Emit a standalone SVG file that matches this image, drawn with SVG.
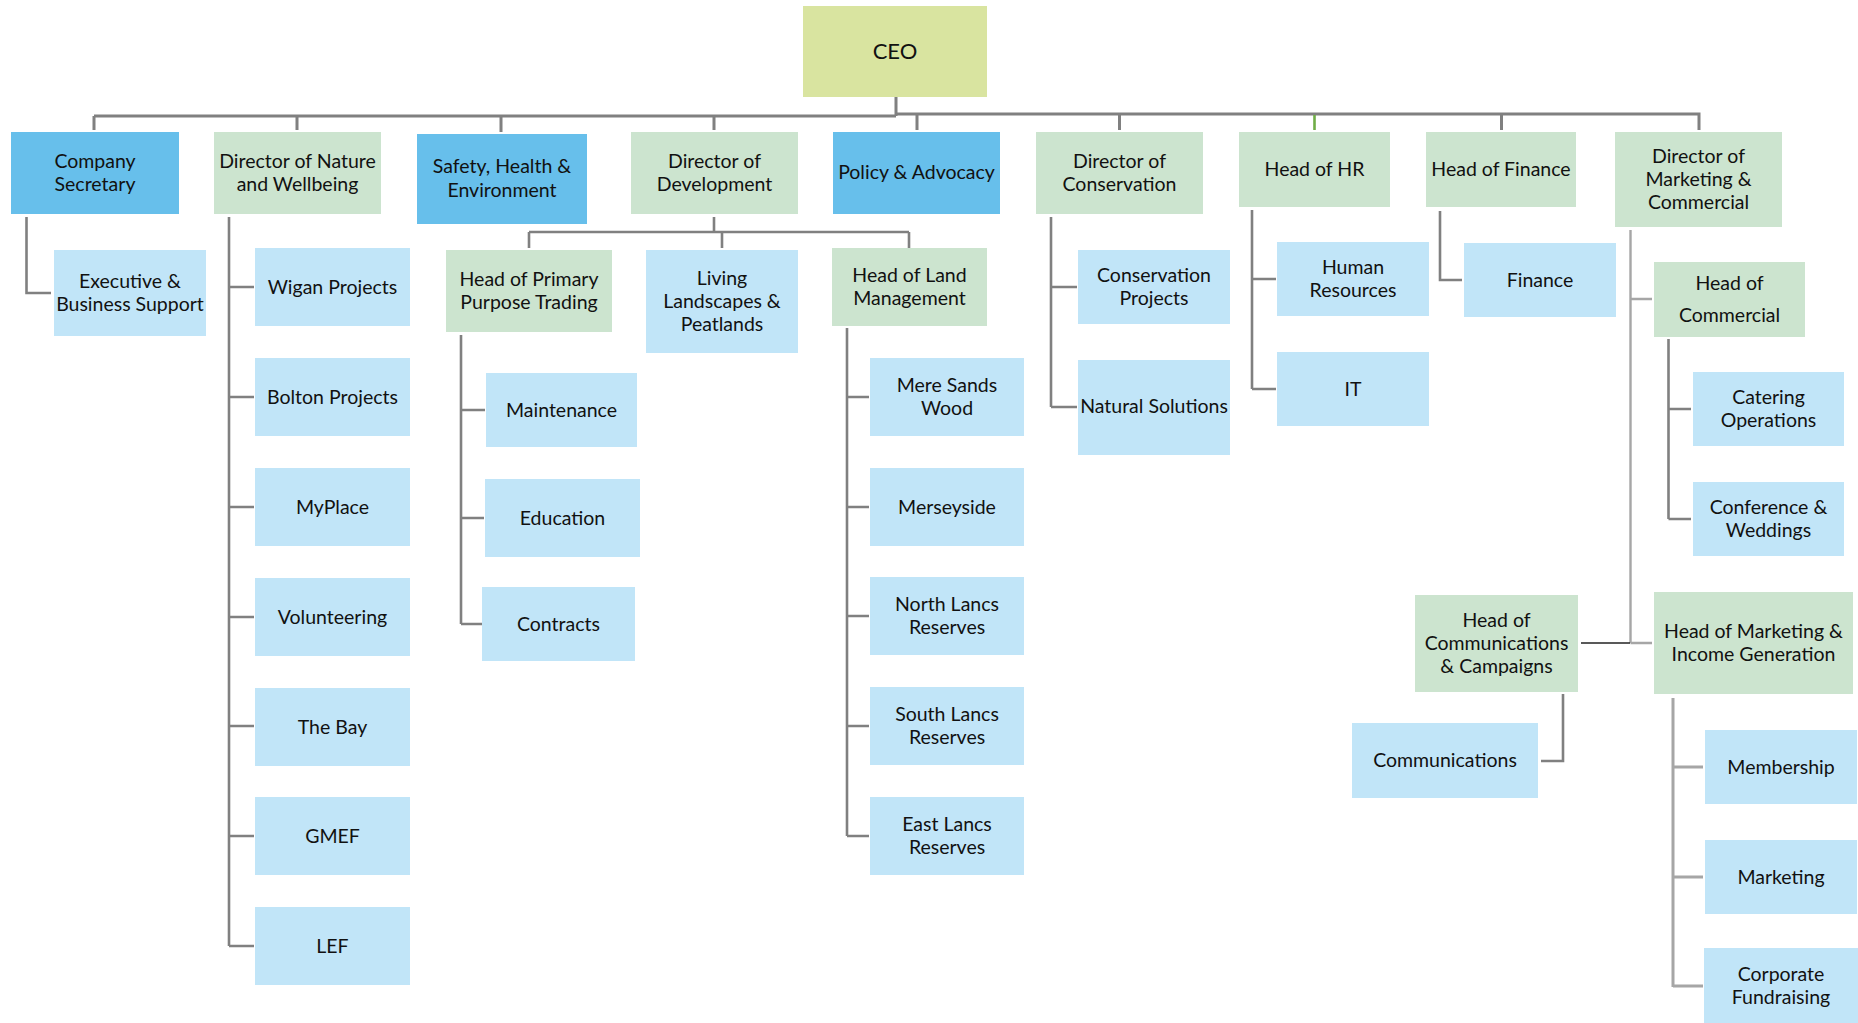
<svg xmlns="http://www.w3.org/2000/svg" width="1858" height="1023" viewBox="0 0 1858 1023">
<style>
.b{fill:#c1e5f8}
.g{fill:#cce4cf}
.d{fill:#67bfeb}
.c{fill:#d9e4a0}
text{font-family:Lato,"Liberation Sans",sans-serif;font-size:19.5px;fill:#111;text-anchor:middle}
.ln{fill:none;stroke:#808080;stroke-width:2.6}
.lt{fill:none;stroke:#a6a6a6;stroke-width:2.4}
</style>
<rect width="1858" height="1023" fill="#fff"/>
<g id="connectors">
<path class="ln" d="M896 97V116M94 116H896M94 116V130M297 116V130M501 116V132M714 116V130M895 114H1699V130M917 114V130M1119.5 114V130M1501.5 114V130" style="stroke-width:3"/>
<path d="M1314.5 115V130" fill="none" stroke="#70ad47" stroke-width="2.6"/>
<path class="ln" d="M26.5 217V293H51"/>
<path class="ln" d="M229 217V946M229 287H254M229 397H254M229 507H254M229 617H254M229 726H254M229 836H254M229 946H254"/>
<path class="ln" d="M714 217V232M529 232H909M529 232V248M722 232V248M909 232V248"/>
<path class="ln" d="M461 335V624M461 410H485M461 518H484M461 624H482"/>
<path class="ln" d="M847 328V836M847 397H869M847 507H869M847 616H869M847 726H869M847 836H869"/>
<path class="ln" d="M1051 217V407M1051 287H1077M1051 407H1077"/>
<path class="ln" d="M1252 210V389M1252 279H1276M1252 389H1276"/>
<path class="ln" d="M1440 211V280H1462"/>
<path class="lt" d="M1630.5 230V643M1630.5 299H1652M1630.5 643H1652"/>
<path d="M1581 643H1630" fill="none" stroke="#222" stroke-width="1.6"/>
<path class="ln" d="M1668.5 339V519M1668.5 409H1691M1668.5 519H1691"/>
<path class="ln" d="M1563 694V761H1541"/>
<path class="lt" d="M1673 698V987M1673 767H1703M1673 877H1703M1673 986H1703" style="stroke-width:3"/>
</g>
<g id="n-ceo"><rect class="c" x="803" y="6" width="184" height="91"/><text x="895" y="59" style="font-size:22px">CEO</text></g>
<g id="n-company-secretary"><rect class="d" x="11" y="132" width="168" height="82"/><text x="95" y="168">Company</text><text x="95" y="191">Secretary</text></g>
<g id="n-dir-nature"><rect class="g" x="214" y="132" width="167" height="82"/><text x="297.5" y="168">Director of Nature</text><text x="297.5" y="191">and Wellbeing</text></g>
<g id="n-safety"><rect class="d" x="417" y="134" width="170" height="90"/><text x="502" y="173">Safety, Health &amp;</text><text x="502" y="197">Environment</text></g>
<g id="n-dir-dev"><rect class="g" x="631" y="132" width="167" height="82"/><text x="714.5" y="168">Director of</text><text x="714.5" y="191">Development</text></g>
<g id="n-policy"><rect class="d" x="833" y="132" width="167" height="82"/><text x="916.5" y="179">Policy &amp; Advocacy</text></g>
<g id="n-dir-cons"><rect class="g" x="1036" y="132" width="167" height="82"/><text x="1119.5" y="168">Director of</text><text x="1119.5" y="191">Conservation</text></g>
<g id="n-head-hr"><rect class="g" x="1239" y="132" width="151" height="75"/><text x="1314.5" y="176">Head of HR</text></g>
<g id="n-head-fin"><rect class="g" x="1426" y="132" width="150" height="75"/><text x="1501" y="176">Head of Finance</text></g>
<g id="n-dir-mkt"><rect class="g" x="1615" y="132" width="167" height="95"/><text x="1698.5" y="163">Director of</text><text x="1698.5" y="186">Marketing &amp;</text><text x="1698.5" y="209">Commercial</text></g>
<g id="n-exec"><rect class="b" x="54" y="250" width="152" height="86"/><text x="130" y="288">Executive &amp;</text><text x="130" y="311">Business Support</text></g>
<g id="n-wigan"><rect class="b" x="255" y="248" width="155" height="78"/><text x="332.5" y="294">Wigan Projects</text></g>
<g id="n-bolton"><rect class="b" x="255" y="358" width="155" height="78"/><text x="332.5" y="404">Bolton Projects</text></g>
<g id="n-myplace"><rect class="b" x="255" y="468" width="155" height="78"/><text x="332.5" y="514">MyPlace</text></g>
<g id="n-volunteering"><rect class="b" x="255" y="578" width="155" height="78"/><text x="332.5" y="624">Volunteering</text></g>
<g id="n-bay"><rect class="b" x="255" y="688" width="155" height="78"/><text x="332.5" y="734">The Bay</text></g>
<g id="n-gmef"><rect class="b" x="255" y="797" width="155" height="78"/><text x="332.5" y="843">GMEF</text></g>
<g id="n-lef"><rect class="b" x="255" y="907" width="155" height="78"/><text x="332.5" y="953">LEF</text></g>
<g id="n-head-ppt"><rect class="g" x="446" y="250" width="166" height="82"/><text x="529" y="286">Head of Primary</text><text x="529" y="309">Purpose Trading</text></g>
<g id="n-maintenance"><rect class="b" x="486" y="373" width="151" height="74"/><text x="561.5" y="417">Maintenance</text></g>
<g id="n-education"><rect class="b" x="485" y="479" width="155" height="78"/><text x="562.5" y="525">Education</text></g>
<g id="n-contracts"><rect class="b" x="482" y="587" width="153" height="74"/><text x="558.5" y="631">Contracts</text></g>
<g id="n-living"><rect class="b" x="646" y="250" width="152" height="103"/><text x="722" y="285">Living</text><text x="722" y="308">Landscapes &amp;</text><text x="722" y="331">Peatlands</text></g>
<g id="n-head-land"><rect class="g" x="832" y="248" width="155" height="78"/><text x="909.5" y="282">Head of Land</text><text x="909.5" y="305">Management</text></g>
<g id="n-mere"><rect class="b" x="870" y="358" width="154" height="78"/><text x="947" y="392">Mere Sands</text><text x="947" y="415">Wood</text></g>
<g id="n-merseyside"><rect class="b" x="870" y="468" width="154" height="78"/><text x="947" y="514">Merseyside</text></g>
<g id="n-north"><rect class="b" x="870" y="577" width="154" height="78"/><text x="947" y="611">North Lancs</text><text x="947" y="634">Reserves</text></g>
<g id="n-south"><rect class="b" x="870" y="687" width="154" height="78"/><text x="947" y="721">South Lancs</text><text x="947" y="744">Reserves</text></g>
<g id="n-east"><rect class="b" x="870" y="797" width="154" height="78"/><text x="947" y="831">East Lancs</text><text x="947" y="854">Reserves</text></g>
<g id="n-cons-proj"><rect class="b" x="1078" y="250" width="152" height="74"/><text x="1154" y="282">Conservation</text><text x="1154" y="305">Projects</text></g>
<g id="n-natural"><rect class="b" x="1078" y="360" width="152" height="95"/><text x="1154" y="413">Natural Solutions</text></g>
<g id="n-hr"><rect class="b" x="1277" y="242" width="152" height="74"/><text x="1353" y="274">Human</text><text x="1353" y="297">Resources</text></g>
<g id="n-it"><rect class="b" x="1277" y="352" width="152" height="74"/><text x="1353" y="396">IT</text></g>
<g id="n-finance"><rect class="b" x="1464" y="243" width="152" height="74"/><text x="1540" y="287">Finance</text></g>
<g id="n-head-comm"><rect class="g" x="1654" y="262" width="151" height="75"/><text x="1729.5" y="290">Head of</text><text x="1729.5" y="322">Commercial</text></g>
<g id="n-catering"><rect class="b" x="1693" y="372" width="151" height="74"/><text x="1768.5" y="404">Catering</text><text x="1768.5" y="427">Operations</text></g>
<g id="n-conference"><rect class="b" x="1693" y="482" width="151" height="74"/><text x="1768.5" y="514">Conference &amp;</text><text x="1768.5" y="537">Weddings</text></g>
<g id="n-head-comms"><rect class="g" x="1415" y="595" width="163" height="97"/><text x="1496.5" y="627">Head of</text><text x="1496.5" y="650">Communications</text><text x="1496.5" y="673">&amp; Campaigns</text></g>
<g id="n-head-mkt-inc"><rect class="g" x="1654" y="592" width="199" height="102"/><text x="1753.5" y="638">Head of Marketing &amp;</text><text x="1753.5" y="661">Income Generation</text></g>
<g id="n-communications"><rect class="b" x="1352" y="723" width="186" height="75"/><text x="1445" y="767">Communications</text></g>
<g id="n-membership"><rect class="b" x="1705" y="730" width="152" height="74"/><text x="1781" y="774">Membership</text></g>
<g id="n-marketing"><rect class="b" x="1705" y="840" width="152" height="74"/><text x="1781" y="884">Marketing</text></g>
<g id="n-corporate"><rect class="b" x="1704" y="948" width="154" height="75"/><text x="1781" y="981">Corporate</text><text x="1781" y="1004">Fundraising</text></g>
</svg>
